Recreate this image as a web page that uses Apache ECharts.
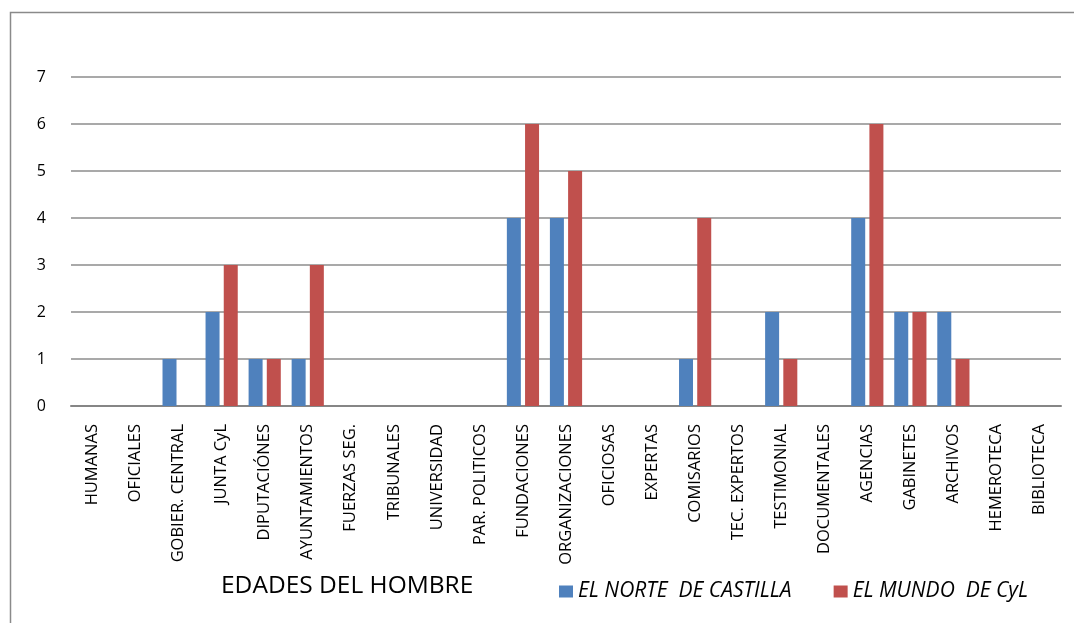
<!DOCTYPE html>
<html>
<head>
<meta charset="utf-8">
<script src="https://cdn.jsdelivr.net/npm/echarts@6/dist/echarts.min.js"></script>
<style>
  html, body { margin: 0; padding: 0; background: #fff; }
  #main { width: 1074px; height: 623px; }
</style>
</head>
<body>
<div id="main"></div>
<script>
// categorias del eje X
const categories = [
  "HUMANAS", "OFICIALES", "GOBIER. CENTRAL", "JUNTA CyL", "DIPUTACIÓNES",
  "AYUNTAMIENTOS", "FUERZAS SEG.", "TRIBUNALES", "UNIVERSIDAD", "PAR. POLITICOS",
  "FUNDACIONES", "ORGANIZACIONES", "OFICIOSAS", "EXPERTAS", "COMISARIOS",
  "TEC. EXPERTOS", "TESTIMONIAL", "DOCUMENTALES", "AGENCIAS", "GABINETES",
  "ARCHIVOS", "HEMEROTECA", "BIBLIOTECA"
];
const norteValues = [0, 0, 1, 2, 1, 1, 0, 0, 0, 0, 4, 4, 0, 0, 1, 0, 2, 0, 4, 2, 2, 0, 0];
const mundoValues = [0, 0, 0, 3, 1, 3, 0, 0, 0, 0, 6, 5, 0, 0, 4, 0, 1, 0, 6, 2, 1, 0, 0];
const seriesNames = ["EL NORTE  DE CASTILLA", "EL MUNDO  DE CyL"];
const chartTitle = "EDADES DEL HOMBRE";

const font = "'Open Sans', sans-serif";

const option = {
  animation: false,
  textStyle: { fontFamily: font },
  graphic: [
    {
      type: "rect",
      shape: { x: 10.5, y: 12.5, width: 1100, height: 700 },
      style: { fill: "none", stroke: "#8a8a8a", lineWidth: 1.5 },
      silent: true,
    },
    {
      type: "text",
      left: 221,
      top: 574,
      style: { text: chartTitle, fill: "#000", font: "24.5px " + font },
    },
  ],
  legend: {
    data: seriesNames,
    left: 554,
    top: 576,
    itemWidth: 14,
    itemHeight: 12,
    itemGap: 42,
    icon: "rect",
    textStyle: {
      fontFamily: font,
      fontStyle: "italic",
      fontSize: 21,
      color: "#000",
    },
  },
  grid: {
    left: 71,
    right: 13,
    top: 77,
    bottom: 217,
    containLabel: false,
  },
  xAxis: {
    type: "category",
    data: categories,
    axisLine: { lineStyle: { color: "#868686", width: 2 } },
    axisTick: { show: false },
    axisLabel: {
      rotate: 90,
      interval: 0,
      color: "#000",
      fontSize: 16.5,
      fontFamily: font,
      margin: 18,
    },
  },
  yAxis: {
    type: "value",
    min: 0,
    max: 7,
    interval: 1,
    axisLine: { show: false },
    axisTick: { show: false },
    axisLabel: { color: "#000", fontSize: 16, fontFamily: font, margin: 25 },
    splitLine: { lineStyle: { color: "#8c8c8c", width: 1.5 } },
  },
  series: [
    {
      name: seriesNames[0],
      type: "bar",
      data: norteValues,
      barWidth: 14,
      barGap: "30%",
      itemStyle: { color: "#4F81BD" },
    },
    {
      name: seriesNames[1],
      type: "bar",
      data: mundoValues,
      barWidth: 14,
      itemStyle: { color: "#C0504D" },
    },
  ],
};

const myChart = echarts.init(document.getElementById("main"));
myChart.setOption(option);
</script>
</body>
</html>
